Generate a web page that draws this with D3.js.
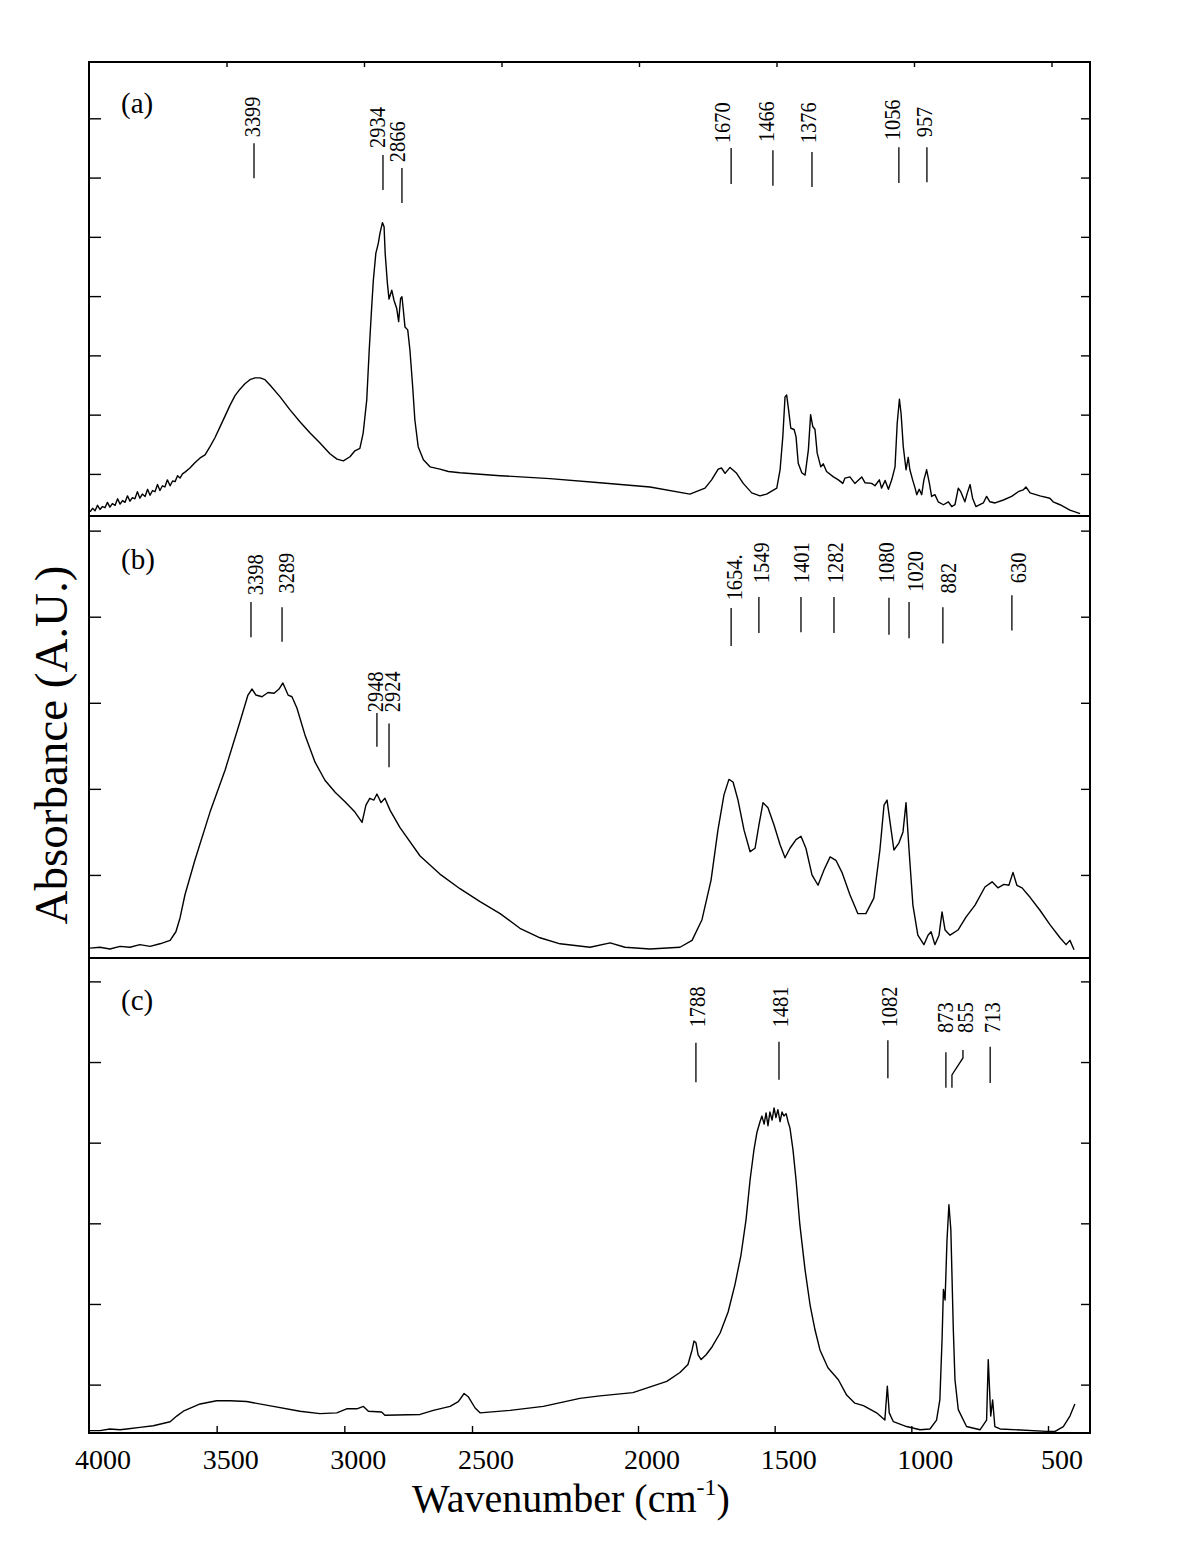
<!DOCTYPE html>
<html><head><meta charset="utf-8">
<script src="https://cdn.jsdelivr.net/npm/d3@7"></script>
<style>
body{margin:0;background:#fff}
svg{display:block}
text{font-family:"Liberation Serif","Times New Roman",serif;fill:#000}
</style>
</head><body>
<svg id="chart" width="1197" height="1549"></svg>
<script>
// ---------- DATA ----------
const wavenumberTicks = [4000,3500,3000,2500,2000,1500,1000,500];
const panelLabels = ["(a)","(b)","(c)"];

// spectrum (a): [wavenumber cm-1, absorbance (A.U.)]
const specA = [[3996,0.36],[3987,0.42],[3978,0.38],[3969,0.47],[3960,0.40],[3951,0.45],[3942,0.43],[3933,0.52],[3924,0.44],[3915,0.50],[3905,0.47],[3896,0.58],[3887,0.49],[3878,0.55],[3869,0.52],[3860,0.63],[3851,0.54],[3842,0.60],[3833,0.58],[3824,0.70],[3815,0.59],[3806,0.66],[3796,0.62],[3787,0.74],[3778,0.64],[3769,0.72],[3760,0.70],[3751,0.82],[3742,0.72],[3733,0.80],[3724,0.78],[3715,0.90],[3705,0.80],[3696,0.88],[3687,0.87],[3678,0.97],[3669,0.93],[3660,1.00],[3651,1.03],[3633,1.10],[3615,1.19],[3596,1.27],[3578,1.32],[3560,1.46],[3542,1.61],[3524,1.79],[3505,1.98],[3487,2.16],[3469,2.32],[3451,2.43],[3433,2.52],[3415,2.59],[3396,2.62],[3378,2.62],[3360,2.59],[3342,2.50],[3305,2.30],[3269,2.08],[3233,1.88],[3196,1.69],[3160,1.52],[3124,1.34],[3098,1.25],[3075,1.22],[3051,1.29],[3033,1.39],[3015,1.43],[3003,1.69],[2990,2.25],[2981,3.09],[2972,3.82],[2966,4.27],[2957,4.72],[2948,4.89],[2942,5.06],[2933,5.24],[2927,5.17],[2923,4.72],[2915,4.22],[2909,3.95],[2899,4.10],[2891,3.93],[2881,3.79],[2874,3.57],[2867,3.96],[2862,3.99],[2857,3.77],[2851,3.48],[2841,3.43],[2833,3.09],[2823,2.47],[2815,1.91],[2803,1.46],[2784,1.24],[2760,1.12],[2724,1.08],[2693,1.04],[2651,1.02],[2505,0.97],[2324,0.92],[2142,0.85],[1960,0.78],[1815,0.66],[1760,0.76],[1736,0.90],[1712,1.08],[1700,1.10],[1687,1.01],[1669,1.11],[1645,1.01],[1621,0.84],[1590,0.68],[1560,0.63],[1536,0.66],[1499,0.76],[1487,1.07],[1477,1.63],[1469,2.30],[1463,2.33],[1456,2.08],[1448,1.77],[1436,1.75],[1429,1.63],[1421,1.18],[1408,1.02],[1396,0.98],[1384,1.41],[1376,2.00],[1368,1.80],[1360,1.75],[1352,1.35],[1339,1.12],[1330,1.17],[1318,1.04],[1293,0.95],[1275,0.90],[1259,0.84],[1251,0.93],[1233,0.95],[1215,0.84],[1190,0.95],[1178,0.85],[1154,0.84],[1142,0.80],[1126,0.90],[1118,0.76],[1105,0.89],[1093,0.74],[1081,0.90],[1069,1.12],[1061,1.86],[1053,2.26],[1047,2.02],[1039,1.46],[1029,1.07],[1021,1.28],[1015,1.07],[1005,0.90],[996,0.76],[990,0.65],[981,0.74],[972,0.65],[964,0.90],[954,1.07],[944,0.84],[936,0.62],[924,0.65],[912,0.53],[893,0.48],[875,0.53],[863,0.45],[851,0.48],[839,0.76],[830,0.70],[815,0.53],[806,0.68],[796,0.82],[787,0.59],[775,0.45],[748,0.51],[736,0.62],[724,0.53],[705,0.51],[675,0.56],[645,0.62],[621,0.70],[603,0.73],[593,0.78],[578,0.68],[542,0.63],[506,0.59],[494,0.53],[469,0.48],[433,0.39],[396,0.33]];

// spectrum (b)
const specB = [[3996,0.15],[3960,0.16],[3924,0.14],[3887,0.17],[3851,0.16],[3815,0.19],[3778,0.17],[3742,0.20],[3705,0.24],[3684,0.34],[3669,0.50],[3651,0.77],[3615,1.17],[3560,1.73],[3505,2.22],[3451,2.78],[3422,3.09],[3407,3.16],[3393,3.09],[3371,3.07],[3349,3.12],[3327,3.11],[3309,3.16],[3295,3.23],[3276,3.09],[3262,3.07],[3244,2.94],[3215,2.63],[3178,2.31],[3142,2.10],[3105,1.96],[3069,1.85],[3033,1.73],[3007,1.61],[2993,1.81],[2979,1.89],[2964,1.87],[2953,1.94],[2938,1.84],[2924,1.89],[2905,1.75],[2869,1.55],[2796,1.22],[2724,1.01],[2651,0.84],[2578,0.69],[2505,0.55],[2433,0.38],[2360,0.27],[2287,0.20],[2178,0.16],[2105,0.21],[2051,0.16],[1960,0.14],[1851,0.16],[1807,0.24],[1771,0.48],[1738,0.94],[1713,1.52],[1691,1.93],[1673,2.11],[1658,2.08],[1640,1.87],[1618,1.52],[1596,1.27],[1578,1.31],[1564,1.58],[1549,1.84],[1531,1.78],[1509,1.58],[1487,1.35],[1469,1.20],[1451,1.31],[1429,1.41],[1411,1.45],[1393,1.31],[1371,1.00],[1349,0.88],[1327,1.06],[1305,1.21],[1284,1.17],[1262,1.03],[1233,0.77],[1204,0.55],[1175,0.55],[1146,0.73],[1124,1.29],[1109,1.81],[1098,1.87],[1087,1.61],[1073,1.29],[1055,1.37],[1040,1.50],[1029,1.84],[1018,1.29],[1004,0.65],[986,0.30],[964,0.19],[949,0.30],[938,0.34],[924,0.19],[909,0.30],[898,0.57],[887,0.36],[869,0.30],[840,0.36],[811,0.51],[778,0.65],[742,0.86],[716,0.92],[695,0.85],[673,0.89],[655,0.88],[640,1.03],[626,0.88],[607,0.85],[578,0.74],[542,0.59],[505,0.42],[469,0.27],[447,0.19],[433,0.24],[418,0.13]];

// spectrum (c)
const specC = [[4000,0.43],[3960,0.43],[3924,0.45],[3887,0.44],[3863,0.45],[3815,0.47],[3766,0.49],[3705,0.54],[3681,0.61],[3657,0.67],[3596,0.76],[3536,0.80],[3487,0.80],[3427,0.79],[3330,0.73],[3233,0.67],[3160,0.64],[3099,0.65],[3063,0.70],[3026,0.70],[3002,0.73],[2984,0.67],[2936,0.66],[2924,0.62],[2796,0.63],[2748,0.68],[2687,0.73],[2657,0.79],[2636,0.89],[2621,0.85],[2596,0.71],[2578,0.65],[2469,0.68],[2348,0.73],[2215,0.83],[2142,0.86],[2022,0.90],[1899,1.04],[1851,1.15],[1822,1.25],[1807,1.43],[1800,1.54],[1793,1.52],[1785,1.37],[1774,1.31],[1756,1.37],[1734,1.47],[1705,1.64],[1676,1.90],[1651,2.24],[1629,2.61],[1611,3.04],[1596,3.54],[1582,3.91],[1571,4.13],[1560,4.26],[1553,4.33],[1545,4.23],[1538,4.37],[1531,4.21],[1524,4.38],[1516,4.28],[1509,4.43],[1502,4.31],[1495,4.41],[1487,4.26],[1480,4.38],[1473,4.33],[1465,4.36],[1458,4.26],[1451,4.18],[1440,3.91],[1429,3.54],[1415,2.98],[1396,2.42],[1378,1.99],[1360,1.68],[1342,1.43],[1313,1.21],[1275,1.06],[1245,0.87],[1215,0.77],[1184,0.74],[1136,0.65],[1106,0.56],[1097,0.98],[1090,0.65],[1075,0.54],[1027,0.48],[978,0.44],[942,0.45],[918,0.56],[906,0.81],[898,1.56],[893,2.18],[887,2.05],[880,2.79],[873,3.23],[866,2.92],[857,1.68],[851,1.06],[839,0.69],[809,0.48],[760,0.44],[736,0.56],[730,1.31],[721,0.61],[714,0.81],[706,0.48],[687,0.45],[518,0.42],[487,0.42],[457,0.48],[433,0.61],[415,0.76]];

// peak annotations:
// [label, wavenumber of text, wavenumber of leader, absorbance at text start, absorbance at leader top, absorbance at leader bottom, (optional) wavenumber of bent leader bottom]
const annA = [["3399",3409,3400,6.68,6.58,5.99],["2934",2955,2931,6.50,6.38,5.79],["2866",2882,2862,6.26,6.16,5.57],["1670",1700,1665,6.58,6.50,5.89],["1466",1538,1513,6.60,6.46,5.86],["1376",1385,1371,6.58,6.43,5.84],["1056",1080,1055,6.63,6.51,5.91],["957",965,953,6.68,6.51,5.92]];
const annB = [["3398",3398,3411,4.25,4.17,3.76],["3289",3285,3298,4.27,4.11,3.71],["2948",2962,2953,2.89,2.88,2.49],["2924",2900,2909,2.89,2.76,2.25],["1654.",1656,1665,4.19,4.10,3.66],["1549",1558,1564,4.39,4.23,3.81],["1401",1413,1411,4.39,4.23,3.82],["1282",1287,1291,4.39,4.23,3.81],["1080",1104,1091,4.39,4.22,3.79],["1020",998,1018,4.29,4.17,3.75],["882",878,895,4.27,4.11,3.69],["630",622,644,4.39,4.25,3.84]];
const annC = [["1788",1789,1793,5.43,5.24,4.75],["1481",1489,1491,5.43,5.25,4.78],["1082",1093,1095,5.43,5.27,4.80],["873",887,884,5.36,5.12,4.68],["855",815,822,5.36,5.15,4.68,862],["713",718,723,5.36,5.19,4.74]];

// absorbance ranges and tick values of each panel
const yDomainA = [0.29,7.95], yTicksA = [1,2,3,4,5,6,7];
const yDomainB = [0.035,5.17], yTicksB = [1,2,3,4,5];
const yDomainC = [0.40,6.29], yTicksC = [1,2,3,4,5,6];

// ---------- LAYOUT ----------
const L = 89, R = 1090;
const bands = [[62,516],[516,958],[958,1433]];
const svg = d3.select("#chart");

const x = d3.scaleLinear().domain([4000,360]).range([L,R]);
// the printed bottom axis of the original is drawn on a slightly different (piecewise) scale
const xb = d3.scaleLinear().domain([4000,2500,2000,500]).range([L,472,638,1048]);

const panels = [
  {label:panelLabels[0], data:specA, ann:annA, dom:yDomainA, ticks:yTicksA, band:bands[0], labY:113},
  {label:panelLabels[1], data:specB, ann:annB, dom:yDomainB, ticks:yTicksB, band:bands[1], labY:569},
  {label:panelLabels[2], data:specC, ann:annC, dom:yDomainC, ticks:yTicksC, band:bands[2], labY:1010}
];
const annFont = 24;

panels.forEach(p=>{
  const y = d3.scaleLinear().domain(p.dom).range([p.band[1], p.band[0]]);
  const g = svg.append("g");
  // ticks
  g.append("g").attr("transform",`translate(${L},0)`)
    .call(d3.axisRight(y).tickValues(p.ticks).tickSize(12).tickFormat(""))
    .call(a=>a.select(".domain").remove())
    .selectAll("line").attr("stroke","#000").attr("stroke-width",1.4);
  g.append("g").attr("transform",`translate(${R},0)`)
    .call(d3.axisLeft(y).tickValues(p.ticks).tickSize(9).tickFormat(""))
    .call(a=>a.select(".domain").remove())
    .selectAll("line").attr("stroke","#000").attr("stroke-width",1.4);
  // spectrum
  const clipId = "clip"+p.label.replace(/[()]/g,"");
  svg.append("clipPath").attr("id",clipId).append("rect")
    .attr("x",L).attr("y",p.band[0]).attr("width",R-L).attr("height",p.band[1]-p.band[0]);
  g.append("path").datum(p.data)
    .attr("clip-path",`url(#${clipId})`)
    .attr("fill","none").attr("stroke","#000").attr("stroke-width",1.4).attr("stroke-linejoin","round")
    .attr("d", d3.line().x(d=>x(d[0])).y(d=>y(d[1])));
  // panel label
  g.append("text").attr("x",121).attr("y",p.labY).attr("font-size",29).text(p.label);
  // annotations
  p.ann.forEach(a=>{
    const xl = x(a[2]), yt = y(a[4]), yb = y(a[5]);
    if (a.length > 6) {
      const xe = x(a[6]);
      g.append("path").attr("fill","none").attr("stroke","#000").attr("stroke-width",1.3)
        .attr("d",`M${xl},${yt}V${yt+8}L${xe},${yt+25}V${yb}`);
    } else {
      g.append("line").attr("x1",xl).attr("x2",xl).attr("y1",yt).attr("y2",yb)
        .attr("stroke","#000").attr("stroke-width",1.3);
    }
    g.append("text")
      .attr("transform",`translate(${x(a[1]) + annFont*0.34},${y(a[3])}) rotate(-90) scale(0.85,1)`)
      .attr("font-size",annFont).text(a[0]);
  });
});

// top ticks
svg.append("g").attr("transform",`translate(0,${bands[0][0]})`)
  .call(d3.axisBottom(x).tickValues(wavenumberTicks.slice(1)).tickSize(5).tickFormat(""))
  .call(a=>a.select(".domain").remove())
  .selectAll("line").attr("stroke","#000").attr("stroke-width",1.4);
// bottom ticks
svg.append("g").attr("transform",`translate(0,${bands[2][1]})`)
  .call(d3.axisTop(xb).tickValues(wavenumberTicks.slice(1)).tickSize(7).tickFormat(""))
  .call(a=>a.select(".domain").remove())
  .selectAll("line").attr("stroke","#000").attr("stroke-width",1.4);
// bottom labels
svg.append("g").selectAll("text").data(wavenumberTicks).join("text")
  .attr("x",d=>xb(d)+14).attr("y",1469).attr("text-anchor","middle").attr("font-size",28)
  .text(d=>d);

// frame & separators
svg.append("rect").attr("x",L).attr("y",bands[0][0]).attr("width",R-L).attr("height",bands[2][1]-bands[0][0])
  .attr("fill","none").attr("stroke","#000").attr("stroke-width",2);
[bands[1][0], bands[2][0]].forEach(yy=>{
  svg.append("line").attr("x1",L).attr("x2",R).attr("y1",yy).attr("y2",yy)
    .attr("stroke","#000").attr("stroke-width",2);
});

// axis titles
const xt = svg.append("text").attr("x",571).attr("y",1512).attr("text-anchor","middle").attr("font-size",40);
xt.append("tspan").text("Wavenumber (cm");
xt.append("tspan").attr("font-size",24).attr("dy",-17).text("-1");
xt.append("tspan").attr("dy",17).text(")");
svg.append("text").attr("transform","translate(67,745) rotate(-90)").attr("text-anchor","middle")
  .attr("font-size",47).text("Absorbance (A.U.)");
</script>
</body></html>
